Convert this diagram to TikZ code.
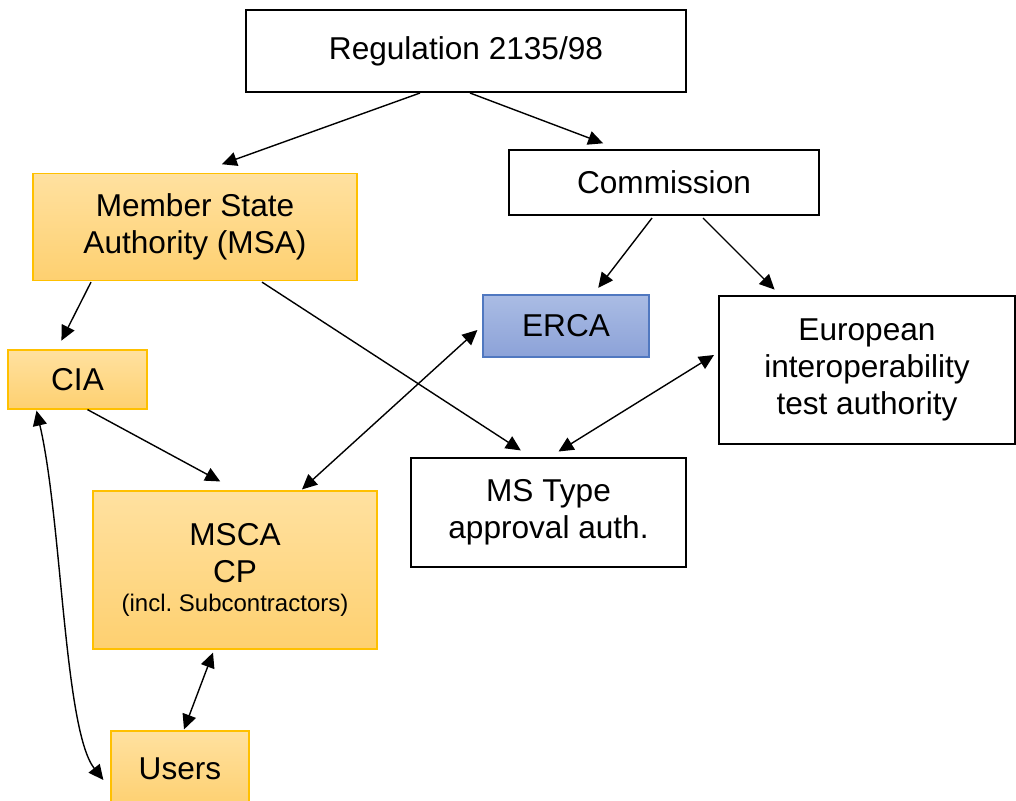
\documentclass[tikz,border=0pt]{standalone}
\usepackage{fontspec}
\setmainfont{Liberation Sans}
\usepackage{tikz, xcolor}
\usetikzlibrary{arrows.meta, calc}

\definecolor{orangetop}{RGB}{255,225,160}
\definecolor{orangebot}{RGB}{254,208,112}
\definecolor{orangeline}{RGB}{255,192,0}
\definecolor{bluetop}{RGB}{170,188,228}
\definecolor{bluebot}{RGB}{140,162,216}
\definecolor{blueline}{RGB}{80,120,192}

\tikzset{
  box/.style={draw=black, line width=1pt, fill=white, align=center,
    inner sep=0pt, font=\fontsize{15.8}{18.5}\selectfont\frenchspacing},
  orangebox/.style={box, draw=orangeline, line width=0.6pt,
    top color=orangetop, bottom color=orangebot},
  bluebox/.style={box, draw=blueline, line width=0.6pt,
    top color=bluetop, bottom color=bluebot},
  link/.style={-{Triangle[length=7.5pt,width=7pt]}, line width=0.7pt, shorten >=1pt},
  twolink/.style={{Triangle[length=7.5pt,width=7pt]}-{Triangle[length=7.5pt,width=7pt]}, line width=0.7pt}
}

\begin{document}
\begin{tikzpicture}[x=0.5pt, y=-0.5pt]
    \useasboundingbox (0, 0) rectangle (1016, 800);

    \node [box, minimum width=220pt, minimum height=41pt] (reg) at (466, 51) {Regulation 2135/98};
    \node [box, minimum width=155pt, minimum height=32.5pt] (com) at (664, 182.5) {Commission};
    \node [orangebox, minimum width=162pt, minimum height=53.5pt] (msa) at (195, 227) {Member State\\Authority (MSA)};
    \node [orangebox, minimum width=69.5pt, minimum height=29.5pt] (cia) at (77.5, 379.5) {CIA};
    \node [bluebox, minimum width=83pt, minimum height=31pt] (erca) at (566, 326) {ERCA};
    \node [box, minimum width=148pt, minimum height=74pt] (eit) at (867, 370) {European\\interoperability\\test authority};
    \node [box, minimum width=137.5pt, minimum height=54.5pt] (msta) at (548.5, 512) {MS Type\\approval auth.};
    \node [orangebox, minimum width=142pt, minimum height=79pt] (msca) at (235, 570)
        {MSCA\\CP\\[-4pt]{\fontsize{12}{14}\selectfont (incl. Subcontractors)}};
    \node [orangebox, minimum width=69pt, minimum height=38pt] (users) at (180, 769) {Users};

    % from the regulation down
    \draw [link] ($(reg.south)+(-46,0)$) to ($(msa.north)+(25,-8)$);
    \draw [link] ($(reg.south)+(4,0)$) to ($(com.north)+(-59,-5)$);
    \draw [link] ($(com.south)+(-12,2)$) to ($(erca.north)+(31,-5)$);
    \draw [link] ($(com.south)+(39,2)$) to ($(eit.north)+(-91,-4)$);

    % member state side
    \draw [link] ($(msa.south)+(-104,1)$) to ($(cia.north)+(-17,-7)$);
    \draw [link] ($(msa.south)+(67,1)$) to ($(msta.north)+(-26,-5)$);
    \draw [link] ($(cia.south)+(10,0)$) to ($(msca.north)+(-13,-8)$);

    % both ways
    \draw [twolink] ($(erca.west)+(-5,4)$) to ($(msca.north)+(67,-1)$);
    \draw [twolink] ($(eit.west)+(-4,-15)$) to ($(msta.north)+(10,-5)$);
    \draw [twolink] ($(msca.south)+(-22,3)$) to ($(users.north)+(4,-1)$);
    \draw [twolink] ($(cia.south)+(-41,1)$) .. controls (62, 520) and (64, 730) .. ($(users.west)+(-7,11)$);

  \end{tikzpicture}
\end{document}
